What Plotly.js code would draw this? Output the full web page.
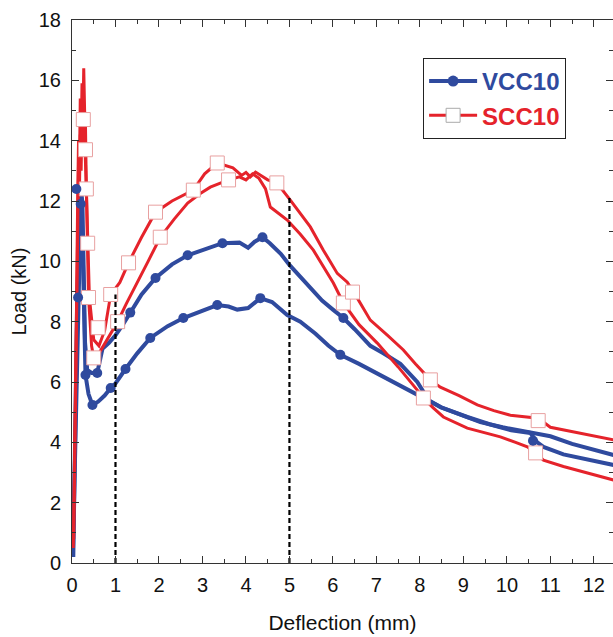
<!DOCTYPE html>
<html>
<head>
<meta charset="utf-8">
<script src="https://cdn.plot.ly/plotly-3.0.1.min.js"></script>
<style>html,body{margin:0;padding:0;background:#fff;}#chart{width:613px;height:637px;}</style>
</head>
<body>
<div id="chart"></div>
<script>
// VCC10 specimen A (upper blue curve)
const vccA_x = [0.02, 0.06, 0.1, 0.14, 0.18, 0.21, 0.24, 0.27, 0.3, 0.35, 0.45, 0.58, 0.7, 0.85, 1.0, 1.17, 1.34, 1.6, 1.92, 2.3, 2.66, 3.05, 3.46, 3.85, 4.05, 4.2, 4.38, 4.55, 4.8, 5.0, 5.25, 5.5, 5.75, 6.0, 6.24, 6.5, 6.86, 7.16, 7.55, 7.94, 8.2, 8.47, 8.9, 9.39, 9.9, 10.3, 10.6, 11.0, 11.5, 12.0, 12.45];
const vccA_y = [0.3, 3.0, 6.5, 8.8, 11.0, 12.4, 11.9, 9.5, 7.3, 6.4, 6.3, 6.3, 7.1, 7.3, 7.55, 7.9, 8.3, 8.9, 9.45, 9.9, 10.2, 10.4, 10.6, 10.62, 10.45, 10.65, 10.8, 10.6, 10.25, 9.88, 9.48, 9.1, 8.7, 8.4, 8.12, 7.75, 7.2, 6.95, 6.6, 6.0, 5.4, 5.17, 4.95, 4.67, 4.5, 4.38, 4.31, 4.2, 3.95, 3.75, 3.58];
// VCC10 specimen B (lower blue curve)
const vccB_x = [0.03, 0.07, 0.12, 0.17, 0.22, 0.26, 0.31, 0.38, 0.47, 0.6, 0.75, 0.89, 1.0, 1.23, 1.5, 1.8, 2.2, 2.56, 2.95, 3.34, 3.6, 3.8, 4.05, 4.33, 4.6, 4.95, 5.25, 5.6, 5.9, 6.17, 6.6, 7.16, 7.6, 8.01, 8.5, 9.09, 9.6, 10.1, 10.54, 10.7, 10.84, 11.3, 11.8, 12.45];
const vccB_y = [0.2, 4.0, 8.8, 11.0, 11.8, 9.5, 6.23, 5.6, 5.24, 5.35, 5.55, 5.8, 5.95, 6.43, 6.95, 7.46, 7.85, 8.12, 8.35, 8.55, 8.5, 8.4, 8.45, 8.78, 8.65, 8.22, 8.0, 7.6, 7.2, 6.9, 6.6, 6.17, 5.85, 5.5, 5.15, 4.84, 4.6, 4.4, 4.31, 4.0, 3.85, 3.6, 3.45, 3.25];
// SCC10 specimen 1 (higher peak red curve)
const sccA_x = [0.03, 0.07, 0.1, 0.13, 0.15, 0.17, 0.19, 0.21, 0.23, 0.25, 0.27, 0.29, 0.31, 0.33, 0.36, 0.4, 0.5, 0.62, 0.75, 0.89, 1.1, 1.3, 1.6, 1.92, 2.3, 2.79, 3.05, 3.34, 3.7, 3.9, 4.0, 4.1, 4.22, 4.35, 4.5, 4.71, 5.02, 5.48, 5.78, 6.1, 6.33, 6.52, 6.86, 7.25, 7.62, 7.9, 8.24, 8.47, 8.9, 9.32, 9.7, 10.08, 10.4, 10.72, 11.0, 11.5, 12.0, 12.45];
const sccA_y = [0.5, 4.0, 8.0, 12.0, 14.0, 12.8, 15.4, 13.8, 15.9, 14.6, 16.4, 15.0, 14.5, 12.4, 10.6, 8.8, 7.4, 7.2, 7.7, 8.9, 9.3, 9.95, 10.8, 11.63, 12.0, 12.36, 12.9, 13.26, 13.1, 12.85, 12.95, 12.8, 12.96, 12.85, 12.7, 12.6, 12.03, 11.14, 10.37, 9.6, 9.31, 8.88, 8.05, 7.55, 7.06, 6.6, 6.07, 5.83, 5.55, 5.24, 5.05, 4.9, 4.85, 4.8, 4.5, 4.35, 4.2, 4.08];
// SCC10 specimen 2 (lower red curve)
const sccB_x = [0.04, 0.09, 0.12, 0.15, 0.17, 0.19, 0.21, 0.23, 0.26, 0.3, 0.33, 0.36, 0.38, 0.45, 0.5, 0.6, 0.8, 1.05, 1.25, 1.5, 1.75, 2.03, 2.35, 2.66, 2.95, 3.18, 3.6, 3.85, 4.0, 4.15, 4.3, 4.45, 4.56, 4.95, 5.25, 5.55, 5.8, 6.01, 6.24, 6.6, 7.02, 7.5, 7.94, 8.08, 8.3, 8.54, 9.09, 9.5, 9.85, 10.2, 10.47, 10.66, 10.84, 11.3, 11.76, 12.1, 12.45];
const sccB_y = [0.8, 6.0, 10.5, 13.2, 12.2, 14.2, 13.0, 14.8, 14.7, 13.7, 12.4, 10.6, 8.8, 7.2, 6.8, 6.9, 7.4, 8.0, 8.6, 9.28, 10.0, 10.8, 11.4, 11.93, 12.25, 12.46, 12.7, 12.8, 12.7, 12.9, 12.75, 12.4, 11.8, 11.37, 10.9, 10.37, 9.8, 9.28, 8.62, 7.9, 7.29, 6.5, 5.73, 5.47, 5.15, 4.84, 4.47, 4.3, 4.18, 4.0, 3.85, 3.65, 3.41, 3.2, 3.02, 2.9, 2.75];
// marker positions
const vccMark_x = [0.1, 0.2, 0.14, 0.31, 0.58, 1.34, 1.92, 2.66, 3.46, 4.38, 6.24, 0.47, 0.89, 1.23, 1.8, 2.56, 3.34, 4.33, 6.17, 10.6];
const vccMark_y = [12.4, 11.9, 8.8, 6.23, 6.3, 8.3, 9.45, 10.2, 10.6, 10.8, 8.12, 5.24, 5.8, 6.43, 7.46, 8.12, 8.55, 8.78, 6.9, 4.05];
const sccMark_x = [0.26, 0.31, 0.33, 0.36, 0.38, 0.6, 0.5, 0.89, 1.05, 1.3, 1.92, 2.03, 2.79, 3.34, 3.6, 4.71, 6.24, 6.45, 8.08, 8.24, 10.72, 10.66];
const sccMark_y = [14.7, 13.7, 12.4, 10.6, 8.8, 7.8, 6.8, 8.9, 8.0, 9.95, 11.63, 10.8, 12.36, 13.26, 12.7, 12.6, 8.62, 8.98, 5.47, 6.07, 4.72, 3.65];
// dashed guide lines
const guideX = [1, 5];
const guideTop = [8.9, 12.1];
const xTicks = [0,1,2,3,4,5,6,7,8,9,10,11,12];
const yTicks = [0,2,4,6,8,10,12,14,16,18];

const BLUE = '#2f4a9e', RED = '#e5232b';
const traces = [];
traces.push({x: vccA_x, y: vccA_y, mode:'lines', line:{color:BLUE, width:4}, showlegend:false, hoverinfo:'skip'});
traces.push({x: vccB_x, y: vccB_y, mode:'lines', line:{color:BLUE, width:4}, showlegend:false, hoverinfo:'skip'});
traces.push({x: sccA_x, y: sccA_y, mode:'lines', line:{color:RED, width:3}, showlegend:false, hoverinfo:'skip'});
traces.push({x: sccB_x, y: sccB_y, mode:'lines', line:{color:RED, width:3}, showlegend:false, hoverinfo:'skip'});
traces.push({x: sccMark_x, y: sccMark_y, mode:'markers', marker:{symbol:'square', size:14, color:'#ffffff', line:{color:'#e8a0a0', width:1}}, showlegend:false, hoverinfo:'skip'});
traces.push({x: vccMark_x, y: vccMark_y, mode:'markers', marker:{symbol:'circle', size:10, color:BLUE}, showlegend:false, hoverinfo:'skip'});
guideX.forEach((gx, i) => {
  traces.push({x:[gx, gx], y:[0, guideTop[i]], mode:'lines', line:{color:'#000', width:2.2, dash:'5px,3px'}, showlegend:false, hoverinfo:'skip'});
});
traces.push({x:[null], y:[null], mode:'lines+markers', name:'<b><span style="color:'+BLUE+'">VCC10</span></b>', line:{color:BLUE, width:4}, marker:{symbol:'circle', size:11, color:BLUE}});
traces.push({x:[null], y:[null], mode:'lines+markers', name:'<b><span style="color:'+RED+'">SCC10</span></b>', line:{color:RED, width:3}, marker:{symbol:'square', size:14, color:'#fff', line:{color:'#aaa', width:1}}});

const axisCommon = {
  showline:true, linecolor:'#333', linewidth:1, mirror:'allticks',
  ticks:'inside', ticklen:7, tickcolor:'#333', tickwidth:1,
  showgrid:false, zeroline:false,
  tickfont:{family:'Liberation Sans, Arial', size:20, color:'#111'}
};
const layout = {
  width:613, height:637,
  margin:{l:72, r:0, t:20, b:74},
  paper_bgcolor:'#fff', plot_bgcolor:'#fff',
  xaxis: Object.assign({}, axisCommon, {
    range:[0, 12.44], tickvals:xTicks, ticktext:xTicks.map(String),
    minor:{dtick:0.5, ticks:'inside', ticklen:4, tickcolor:'#333'},
    ticklabelstandoff:4,
    title:{text:'Deflection (mm)', font:{family:'Liberation Sans, Arial', size:21, color:'#111'}, standoff:20}
  }),
  yaxis: Object.assign({}, axisCommon, {
    range:[0, 18], tickvals:yTicks, ticktext:yTicks.map(String),
    minor:{dtick:1, ticks:'inside', ticklen:4, tickcolor:'#333'},
    ticklabelstandoff:6,
    title:{text:'Load (kN)', font:{family:'Liberation Sans, Arial', size:20, color:'#111'}, standoff:6}
  }),
  legend:{x:0.649, y:0.93, xanchor:'left', yanchor:'top', bgcolor:'#fff', bordercolor:'#222', borderwidth:1,
    font:{family:'Liberation Sans, Arial', size:24}, itemwidth:48, tracegroupgap:0},
  showlegend:true
};
Plotly.newPlot('chart', traces, layout, {staticPlot:true, displayModeBar:false});
</script>
</body>
</html>
